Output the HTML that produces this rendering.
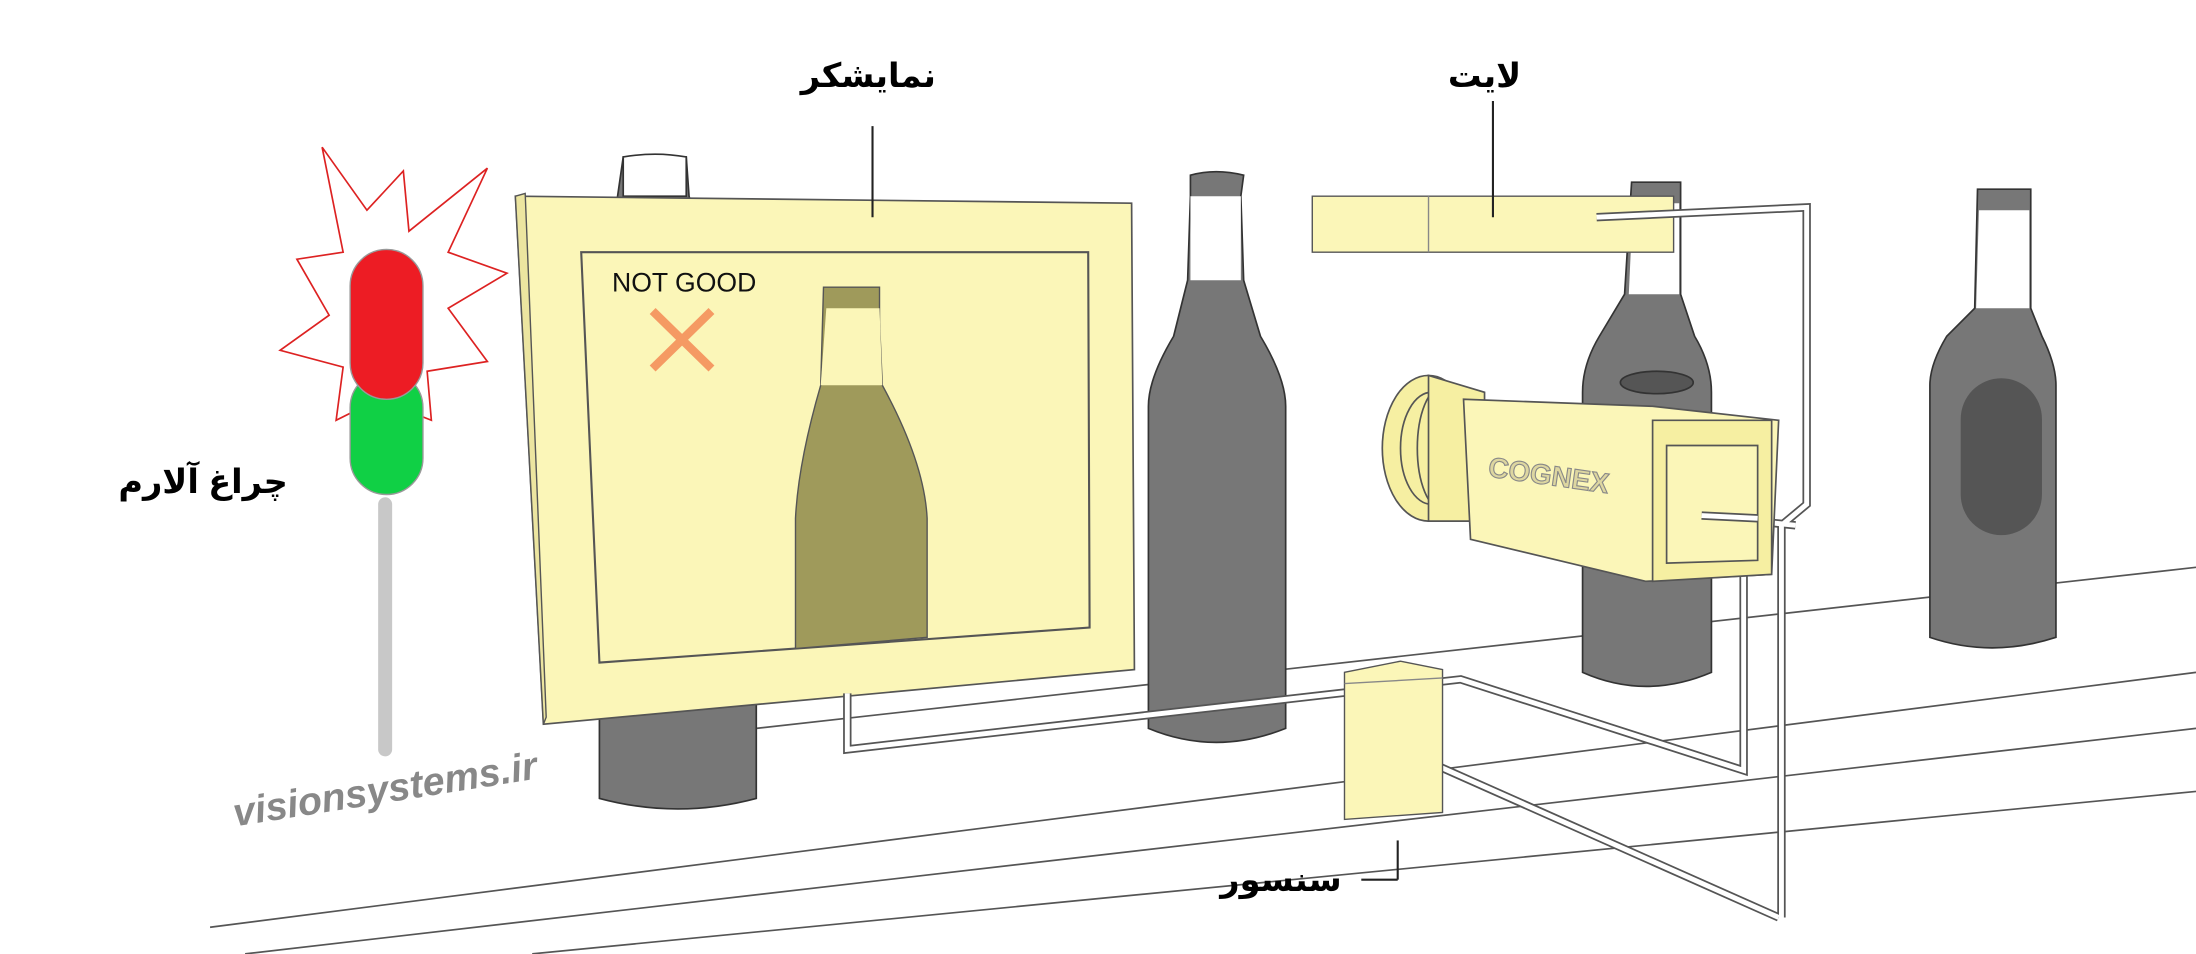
<!DOCTYPE html>
<html><head><meta charset="utf-8"><style>
html,body{margin:0;padding:0;background:#fff;}
svg{display:block}
text{font-family:"Liberation Sans","DejaVu Sans",sans-serif;}
</style></head><body>
<svg width="2196" height="954" viewBox="0 0 1568 681" xmlns="http://www.w3.org/2000/svg">
<rect width="1568" height="681" fill="#fff"/>
<g stroke="#555" stroke-width="1.2" fill="none">
<line x1="540" y1="520" x2="1568" y2="405"/>
<line x1="150" y1="662" x2="1568" y2="480"/>
<line x1="175" y1="681" x2="1568" y2="520"/>
<line x1="380" y1="681" x2="1568" y2="565"/>
</g>
<g stroke="#333" stroke-width="1.2">
<path d="M445 112 L490 112 L492 140 L495 150 L495 175 L500 190 L540 230 L540 570 Q484 585 428 570 L428 230 Z" fill="#777"/>
<path d="M445 112 Q468 108 490 112 L490 140 L445 140 Z" fill="#fff"/>
<path d="M850 125 Q868 120 888 125 L886 140 L888 200 L900 240 Q918 270 918 290 L918 520 Q868 540 820 520 L820 290 Q820 270 838 240 L848 200 L850 140 Z" fill="#777"/>
<path d="M850 140 L886 140 L886 200 L850 200 Z" fill="#fff" stroke="none"/>
<path d="M1165 130 L1200 130 L1200 210 L1210 240 Q1222 260 1222 280 L1222 480 Q1175 500 1130 480 L1130 280 Q1130 260 1142 240 L1160 210 Z" fill="#777"/>
<path d="M1166 145 L1199 145 L1199 210 L1163 210 Z" fill="#fff" stroke="none"/>
<ellipse cx="1183" cy="273" rx="26" ry="8" fill="#555"/>
<path d="M1412 135 L1450 135 L1450 220 L1458 240 Q1468 260 1468 275 L1468 455 Q1422 470 1378 455 L1378 275 Q1378 260 1390 240 L1410 220 Z" fill="#777"/>
<path d="M1413 150 L1449 150 L1449 220 L1411 220 Z" fill="#fff" stroke="none"/>
<rect x="1400" y="270" width="58" height="112" rx="29" fill="#555" stroke="none"/>
</g>
<path d="M368 140 L808 145 L810 478 L388 517 Z" fill="#fbf6b8" stroke="#555" stroke-width="1.2"/>
<path d="M368 140 L375 138 L390 512 L388 517 Z" fill="#ece5a0" stroke="#555" stroke-width="1"/>
<path d="M415 180 L777 180 L778 448 L428 473 Z" fill="#fbf6b8" stroke="#555" stroke-width="1.5"/>
<path d="M588 205 L628 205 L628 230 L630 275 Q660 330 662 370 L662 455 L568 463 L568 370 Q570 330 586 275 Z" fill="#9f9a5b" stroke="#555" stroke-width="1"/>
<path d="M590 220 L628 220 L630 275 L586 275 Z" fill="#fbf6b8" stroke="none"/>
<text x="437" y="208" font-size="19" fill="#111">NOT GOOD</text>
<g stroke="#f59a63" stroke-width="6"><line x1="466" y1="222" x2="508" y2="263"/><line x1="508" y1="222" x2="466" y2="263"/></g>
<path d="M937 140 L1195 140 L1195 180 L937 180 Z" fill="#fbf6b8" stroke="#555" stroke-width="1"/>
<line x1="1020" y1="140" x2="1020" y2="180" stroke="#888" stroke-width="1"/>
<g fill="none">
<g stroke="#555" stroke-width="6">
<polyline points="1140,155 1290,148 1290,360 1272,375 1272,655"/>
<polyline points="605,495 605,535 1043,485 1245,550 1245,370"/>
<polyline points="1000,535 1270,655"/>
<polyline points="1215,368 1282,375"/>
</g>
<g stroke="#fff" stroke-width="3.5">
<polyline points="1140,155 1290,148 1290,360 1272,375 1272,655"/>
<polyline points="605,495 605,535 1043,485 1245,550 1245,370"/>
<polyline points="1000,535 1270,655"/>
<polyline points="1215,368 1282,375"/>
</g>
</g>
<g stroke="#555" stroke-width="1.2">
<ellipse cx="1020" cy="320" rx="33" ry="52" fill="#f6efa2"/>
<ellipse cx="1022" cy="320" rx="22" ry="40" fill="none"/>
<ellipse cx="1030" cy="320" rx="18" ry="44" fill="none"/>
<path d="M1020 268 L1060 280 L1060 372 L1020 372 Z" fill="#f6efa2"/>
<path d="M1045 285 L1180 290 L1270 300 L1265 410 L1175 415 L1050 385 Z" fill="#fbf6b8"/>
<path d="M1180 300 L1265 300 L1265 410 L1180 415 Z" fill="#f6efa2"/>
<path d="M1190 318 L1255 318 L1255 400 L1190 402 Z" fill="#fbf6b8"/>
</g>
<g fill="none"><polyline points="1215,368 1255,370" stroke="#555" stroke-width="6"/><polyline points="1215,368 1255,370" stroke="#fff" stroke-width="3.5"/></g>
<text x="1062" y="340" font-size="20" font-weight="bold" fill="#ddd6a0" stroke="#888" stroke-width="0.8" transform="rotate(8 1062 340)">COGNEX</text>
<path d="M960 480 L1000 472 L1030 478 L1030 580 L960 585 Z" fill="#fbf6b8" stroke="#555" stroke-width="1"/>
<line x1="960" y1="488" x2="1030" y2="484" stroke="#888"/>
<polygon points="230,105 262,150 288,122 292,165 348,120 320,180 362,195 320,220 348,258 305,265 308,300 270,285 240,300 245,262 200,250 235,225 212,185 245,180" fill="#fff" stroke="#d22" stroke-width="1.2"/>
<rect x="270" y="355" width="10" height="185" rx="5" fill="#c8c8c8"/>
<rect x="250" y="265" width="52" height="88" rx="26" fill="#10d045" stroke="#999"/>
<rect x="250" y="178" width="52" height="107" rx="26" fill="#ed1c24" stroke="#999"/>
<g stroke="#222" stroke-width="1.5">
<line x1="623" y1="90" x2="623" y2="155"/>
<line x1="1066" y1="72" x2="1066" y2="155"/>
<line x1="998" y1="600" x2="998" y2="628"/><line x1="972" y1="628" x2="998" y2="628"/>
</g>
<text x="620" y="62" font-size="24" font-weight="bold" text-anchor="middle" font-family="'DejaVu Sans',sans-serif">نمایشکر</text>
<text x="1060" y="62" font-size="24" font-weight="bold" text-anchor="middle" font-family="'DejaVu Sans',sans-serif">لایت</text>
<text x="145" y="352" font-size="24" font-weight="bold" text-anchor="middle" font-family="'DejaVu Sans',sans-serif">چراغ آلارم</text>
<text x="930" y="636" font-size="24" font-weight="bold" text-anchor="end" font-family="'DejaVu Sans',sans-serif" transform="translate(0,0)"><tspan x="958">سنسور</tspan></text>
<text x="168" y="590" font-size="28" font-weight="bold" font-style="italic" fill="#888" transform="rotate(-9 168 590)">visionsystems.ir</text>
</svg>
</body></html>
